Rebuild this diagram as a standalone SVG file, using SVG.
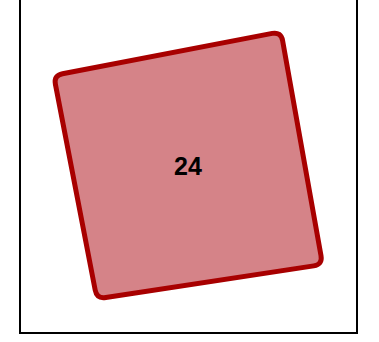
<svg xmlns="http://www.w3.org/2000/svg" width="379" height="342" viewBox="0 0 379 342">
<style>
.frame{fill:none;stroke:#000;stroke-width:2}
.node{fill:#d58388;stroke:#a80000;stroke-width:5;stroke-linejoin:round}
.lbl{font-family:"Liberation Sans",Arial,sans-serif;font-weight:bold;font-size:25px;fill:#000;text-anchor:middle;dominant-baseline:central}
</style>
<path class="frame" d="M20,-2 V333 H357 V-2"/>
<g id="node-24">
<path class="node" d="M62.5,73.8 L272.2,33.4 Q281,31.7 282.6,40.6 L321,255.6 Q322.6,264.5 313.7,265.9 L105.8,297.5 Q96.9,298.9 95.2,290.1 L55.4,84.3 Q53.7,75.5 62.5,73.8 Z"/>
<text class="lbl" x="188" y="166">24</text>
</g>
<g id="connectors"/>
</svg>
